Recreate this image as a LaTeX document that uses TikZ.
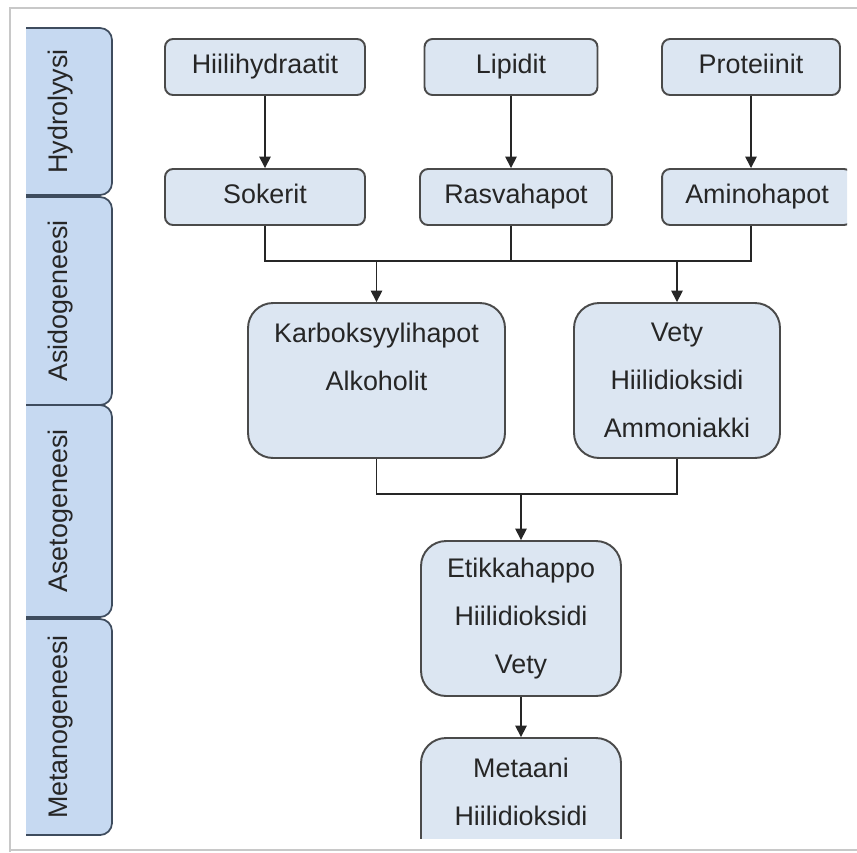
\documentclass[tikz,border=0pt]{standalone}
\usepackage{fontspec}
\setmainfont{Liberation Sans}
\usetikzlibrary{arrows.meta}
\definecolor{boxfill}{HTML}{DCE6F2}
\definecolor{boxline}{HTML}{4A4A4A}
\definecolor{tabfill}{HTML}{C6D9F1}
\definecolor{tabline}{HTML}{3E4C5E}
\definecolor{framegray}{HTML}{C8C8C8}
\tikzset{
  stage/.style={rectangle, rounded corners=0.16cm, fill=boxfill, draw=boxline, line width=1.1pt, minimum height=1.12cm, inner sep=0pt, text=black!85},
  onestage/.style={stage, text height=11pt, text depth=3.5pt},
  bigstage/.style={stage, rounded corners=0.5cm, minimum height=3.1cm, align=center},
  tab/.style={fill=tabfill, draw=tabline, line width=1pt, rounded corners=0.24cm},
  link/.style={line width=0.9pt, color=black!85},
  flow/.style={link, -{Stealth[length=2.3mm, width=2.3mm, inset=0pt]}},
  every node/.append style={font=\fontsize{15.3}{27.2}\selectfont}
}

\begin{document}
\begin{tikzpicture}[x=0.02cm, y=-0.02cm]
\useasboundingbox (0,0) rectangle (857,852);
% frame
\draw[framegray, line width=1.2pt] (10,852) -- (10,8) -- (857,8);
\draw[framegray, line width=1.2pt] (10,850) -- (857,850);
\begin{scope}
\clip (11,9) rectangle (847,838);
% phase tabs
\foreach \ya/\yb/\name in {28/195/Hydrolyysi, 197/405/Asidogeneesi, 405/617/Asetogeneesi, 619/835/Metanogeneesi} {
  \filldraw[tab] (26,\ya) -- (112,\ya) -- (112,\yb) -- (26,\yb);
  \node[rotate=90, text=black!85] (tab-\name) at ({61},{(\ya+\yb)/2}) {\name};
}

% hydrolysis
\node[onestage, minimum width=4cm] (hii) at (265,67) {Hiilihydraatit};
\node[onestage, minimum width=3.46cm] (lip) at (511,67) {Lipidit};
\node[onestage, minimum width=3.56cm] (pro) at (751,67) {Proteiinit};
\node[onestage, minimum width=4cm] (sok) at (265,197) {Sokerit};
\node[onestage, minimum width=3.84cm] (ras) at (516,197) {Rasvahapot};
\node[onestage, minimum width=3.8cm] (ami) at (757,197) {Aminohapot};

% later phases
\node[bigstage, minimum width=5.14cm] (kar) at (376.5,380.5) {Karboksyylihapot\\Alkoholit\\\mbox{}};
\node[bigstage, minimum width=4.12cm] (vet) at (677,380.5) {Vety\\Hiilidioksidi\\Ammoniakki};
\node[bigstage, minimum width=4cm] (eti) at (521,618.5) {Etikkahappo\\Hiilidioksidi\\Vety};
\node[bigstage, minimum width=4cm] (met) at (521,815.5) {Metaani\\Hiilidioksidi\\\mbox{}};

\draw[flow] (hii) -- (sok);
\draw[flow] (lip.south) -- (lip.south |- ras.north);
\draw[flow] (pro.south) -- (pro.south |- ami.north);

\coordinate (bus1) at (511,261);
\draw[link] (sok.south) |- (bus1) -| (pro.south |- ami.south);
\draw[link] (lip.south |- ras.south) -- (bus1);
\draw[flow] (kar.north |- bus1) -- (kar.north);
\draw[flow] (vet.north |- bus1) -- (vet.north);

\coordinate (bus2) at (521,494);
\draw[link] (kar.south) |- (bus2) -| (vet.south);
\draw[flow] (bus2) -- (eti.north);
\draw[flow] (eti) -- (met);
\end{scope}
\end{tikzpicture}
\end{document}
